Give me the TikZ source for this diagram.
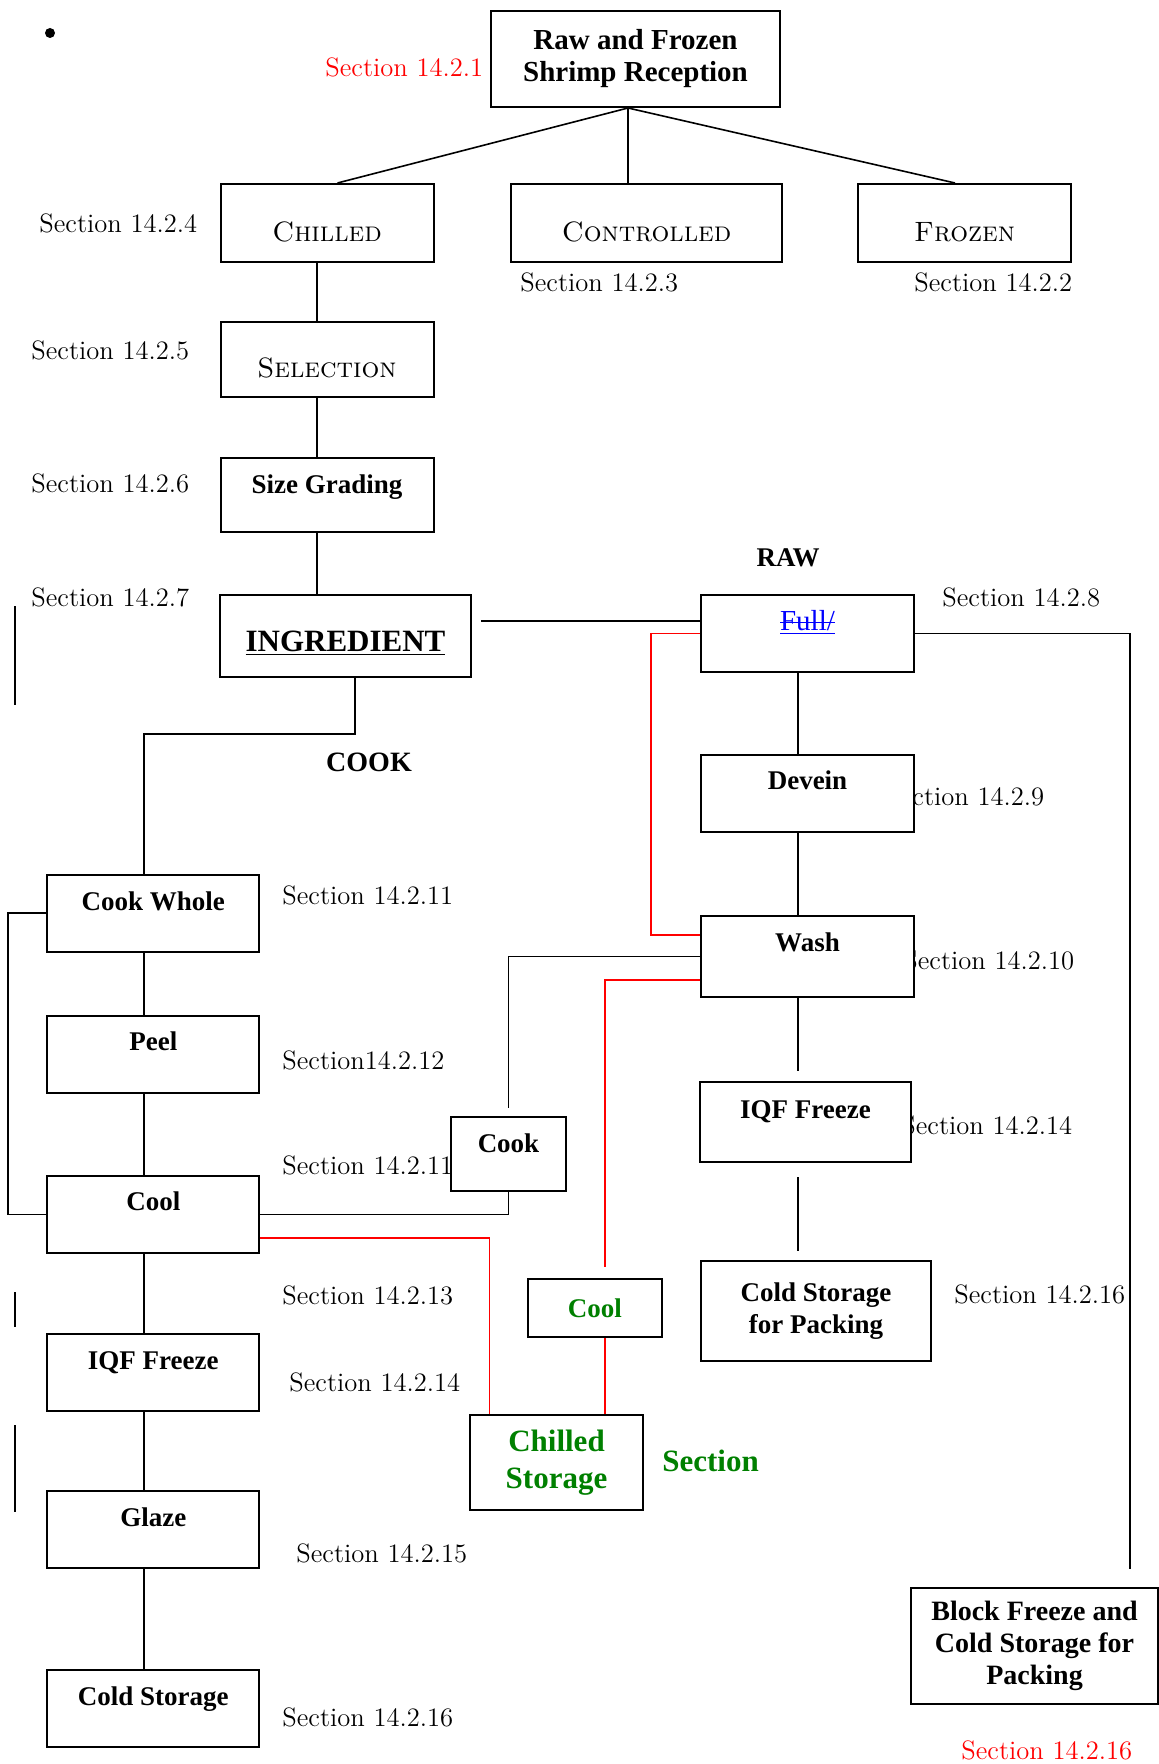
\documentclass[tikz,border=0pt]{standalone}
\usepackage{fontspec}
\newfontfamily\timesfont{Liberation Serif}

\definecolor{wordgreen}{RGB}{0,128,0}

% struck-through and underlined text
\newsavebox{\strikebox}
\newcommand{\struckul}[1]{\sbox{\strikebox}{#1}%
  \rlap{\rule[0.27em]{\wd\strikebox}{0.5pt}}\underline{\usebox{\strikebox}}}

\begin{document}
\begin{tikzpicture}[x=0.5pt, y=-0.5pt,
    stepbox/.style={draw, fill=white, line width=1pt, inner sep=0pt, align=center,
      font=\timesfont\bfseries\fontsize{13.5}{16}\selectfont},
    colbox/.style={stepbox, minimum width=106pt, minimum height=38.5pt,
      text height=9pt, text depth=#1},
    colbox/.default=12pt,
    capbox/.style={stepbox, minimum height=39pt, text height=18.5pt, text depth=0pt,
      font=\fontsize{14}{16}\selectfont\scshape},
    seclabel/.style={anchor=west, inner sep=0pt, font=\fontsize{13.3}{15}\selectfont},
    headlabel/.style={inner sep=0pt, font=\timesfont\bfseries\fontsize{13.5}{16}\selectfont},
    flow/.style={line width=0.8pt},
    redflow/.style={flow, red}]

    \useasboundingbox (0,0) rectangle (1159,1764);

    % Labels
    \node[circle, fill, inner sep=0pt, minimum size=5pt] (dot) at (50,33) {};
    \node[seclabel, red] (sec1) at (325,67) {Section 14.2.1};
    \node[seclabel] (sec4) at (39,223) {Section 14.2.4};
    \node[seclabel] (sec3) at (520,282) {Section 14.2.3};
    \node[seclabel] (sec2) at (914,282) {Section 14.2.2};
    \node[seclabel] (sec5) at (31,350) {Section 14.2.5};
    \node[seclabel] (sec6) at (31,483) {Section 14.2.6};
    \node[seclabel] (sec7) at (31,597) {Section 14.2.7};
    \node[seclabel] (sec8) at (942,597) {Section 14.2.8};
    \node[seclabel] (sec9) at (886,796) {Section 14.2.9};
    \node[seclabel] (sec10) at (903,960) {Section 14.2.10};
    \node[seclabel] (sec14r) at (901,1125) {Section 14.2.14};
    \node[seclabel] (sec16r) at (954,1294) {Section 14.2.16};
    \node[seclabel, red] (sec16b) at (961,1750) {Section 14.2.16};
    \node[seclabel] (sec11a) at (282,895) {Section 14.2.11};
    \node[seclabel] (sec12) at (282,1060) {Section14.2.12};
    \node[seclabel] (sec11b) at (282,1165) {Section 14.2.11};
    \node[seclabel] (sec13) at (282,1295) {Section 14.2.13};
    \node[seclabel] (sec14l) at (289,1382) {Section 14.2.14};
    \node[seclabel] (sec15) at (296,1553) {Section 14.2.15};
    \node[seclabel] (sec16l) at (282,1717) {Section 14.2.16};
    \node[seclabel, wordgreen, font=\timesfont\bfseries\fontsize{15.5}{18}\selectfont]
      (secg) at (662,1461) {Section};
    \node[headlabel] (raw) at (788,558) {RAW};
    \node[headlabel, font=\timesfont\bfseries\fontsize{14}{16}\selectfont] (cookhead) at (369,762) {COOK};

    % Steps
    \node[stepbox, minimum width=144.5pt, minimum height=48pt,
      font=\timesfont\bfseries\fontsize{14.5}{16}\selectfont]
      (recep) at (635.5,59) {Raw and Frozen\\Shrimp Reception};
    \node[capbox, minimum width=106.5pt] (chilled) at (327,223) {Chilled};
    \node[capbox, minimum width=135.5pt] (controlled) at (646.5,223) {Controlled};
    \node[capbox, minimum width=106.5pt] (frozen) at (964.5,223) {Frozen};
    \node[capbox, minimum width=106.5pt, minimum height=37.5pt] (selection) at (327,359.5) {Selection};
    \node[colbox=10.5pt, minimum width=106.5pt, minimum height=37pt] (sizegrad) at (327,495) {Size Grading};
    \node[stepbox, minimum width=125.5pt, minimum height=41pt, text height=15.7pt, text depth=0pt,
      font=\timesfont\bfseries\fontsize{15.5}{18}\selectfont]
      (ingred) at (345.5,636) {\underline{INGREDIENT}};

    % Raw side
    \node[colbox=11.8pt, minimum width=106.5pt, text=blue,
      font=\timesfont\fontsize{14.5}{17}\selectfont] (full) at (807.5,633.5) {\struckul{Full/}};
    \node[colbox=13.5pt, minimum width=106.5pt] (devein) at (807.5,793.5) {Devein};
    \node[colbox=14.5pt, minimum width=106.5pt, minimum height=40.5pt] (wash) at (807.5,956.5) {Wash};
    \node[colbox=12.5pt, minimum width=105.5pt, minimum height=40pt] (iqfr) at (805.5,1122) {IQF Freeze};
    \node[stepbox, minimum width=115pt, minimum height=50pt] (coldpack) at (816,1311) {Cold Storage\\for Packing};
    \node[stepbox, minimum width=123.5pt, minimum height=58pt,
      font=\timesfont\bfseries\fontsize{14}{16}\selectfont]
      (blockfr) at (1034.5,1646) {Block Freeze and\\Cold Storage for\\Packing};

    % Cook side
    \node[colbox] (cookwhole) at (153.3,913) {Cook Whole};
    \node[colbox=13pt] (peel) at (153.3,1054.5) {Peel};
    \node[colbox=13pt] (cool) at (153.3,1214.5) {Cool};
    \node[colbox] (iqfl) at (153.3,1372) {IQF Freeze};
    \node[colbox] (glaze) at (153.3,1529.5) {Glaze};
    \node[colbox] (coldst) at (153.3,1708) {Cold Storage};
    \node[colbox=10.5pt, minimum width=57.5pt, minimum height=37pt] (cook) at (508.5,1154) {Cook};
    \node[stepbox, minimum width=67pt, minimum height=29pt, text=wordgreen] (coolg) at (594.8,1308) {Cool};
    \node[stepbox, minimum width=86.5pt, minimum height=47.5pt, text=wordgreen,
      font=\timesfont\bfseries\fontsize{15.5}{18.5}\selectfont]
      (chillst) at (556.5,1462.5) {Chilled\\Storage};

    % Reception split
    \coordinate (rfoot) at ([xshift=-3.75pt]recep.south);
    \draw[flow] (rfoot) -- ([xshift=5.25pt]chilled.north);
    \draw[flow] (rfoot) -- ([xshift=-9.25pt]controlled.north);
    \draw[flow] (rfoot) -- ([xshift=-4.75pt]frozen.north);

    % Chilled line
    \draw[flow] ([xshift=-5pt]chilled.south) -- ([xshift=-5pt]selection.north);
    \draw[flow] ([xshift=-5pt]selection.south) -- ([xshift=-5pt]sizegrad.north);
    \draw[flow] ([xshift=-5pt]sizegrad.south) -- ([xshift=-5pt]sizegrad.south |- ingred.north);
    \draw[flow, shorten <=4.5pt] ([yshift=7.5pt]ingred.east) -- ([yshift=7.5pt]ingred.east -| full.west);
    \draw[flow] ([xshift=4.75pt]ingred.south) -- ++(0,56) -| ([xshift=-4.65pt]cookwhole.north);

    % Raw line
    \draw[flow] ([xshift=-4.75pt]full.south) -- ([xshift=-4.75pt]devein.north);
    \draw[flow] ([xshift=-4.75pt]devein.south) -- ([xshift=-4.75pt]wash.north);
    \draw[flow, shorten >=5pt] ([xshift=-4.75pt]wash.south) -- ([xshift=-4.75pt]wash.south |- iqfr.north);
    \draw[flow, shorten <=7pt, shorten >=4.5pt]
      ([xshift=-4.75pt]wash.south |- iqfr.south) -- ([xshift=-4.75pt]wash.south |- coldpack.north);
    \draw[flow, shorten >=9pt] (full.east) -| ([xshift=47.75pt]blockfr.north);
    \draw[redflow] (full.west) -- ++(-49,0) |- ([yshift=10.75pt]wash.west);
    \draw[flow, shorten >=4pt] (wash.west) -| (cook.north);
    \draw[flow] (cook.south) |- (cool.east);
    \draw[redflow, shorten >=5.5pt] ([yshift=-11.75pt]wash.west) -| ([xshift=5pt]coolg.north);
    \draw[redflow] ([xshift=5pt]coolg.south) -- ([xshift=5pt]coolg.south |- chillst.north);
    \draw[redflow] ([yshift=-11.75pt]cool.east) -| ([xshift=-33.5pt]chillst.north);

    % Cook line
    \draw[flow] ([xshift=-4.65pt]cookwhole.south) -- ([xshift=-4.65pt]peel.north);
    \draw[flow] ([xshift=-4.65pt]peel.south) -- ([xshift=-4.65pt]cool.north);
    \draw[flow] ([xshift=-4.65pt]cool.south) -- ([xshift=-4.65pt]iqfl.north);
    \draw[flow] ([xshift=-4.65pt]iqfl.south) -- ([xshift=-4.65pt]glaze.north);
    \draw[flow] ([xshift=-4.65pt]glaze.south) -- ([xshift=-4.65pt]coldst.north);
    \draw[flow] (cookwhole.west) -- ++(-38.5,0) |- (cool.west);

    % Margin bars
    \draw[flow] (15,606) -- (15,705);
    \draw[flow] (15,1292) -- (15,1327);
    \draw[flow] (15,1425) -- (15,1512);
\end{tikzpicture}
\end{document}
